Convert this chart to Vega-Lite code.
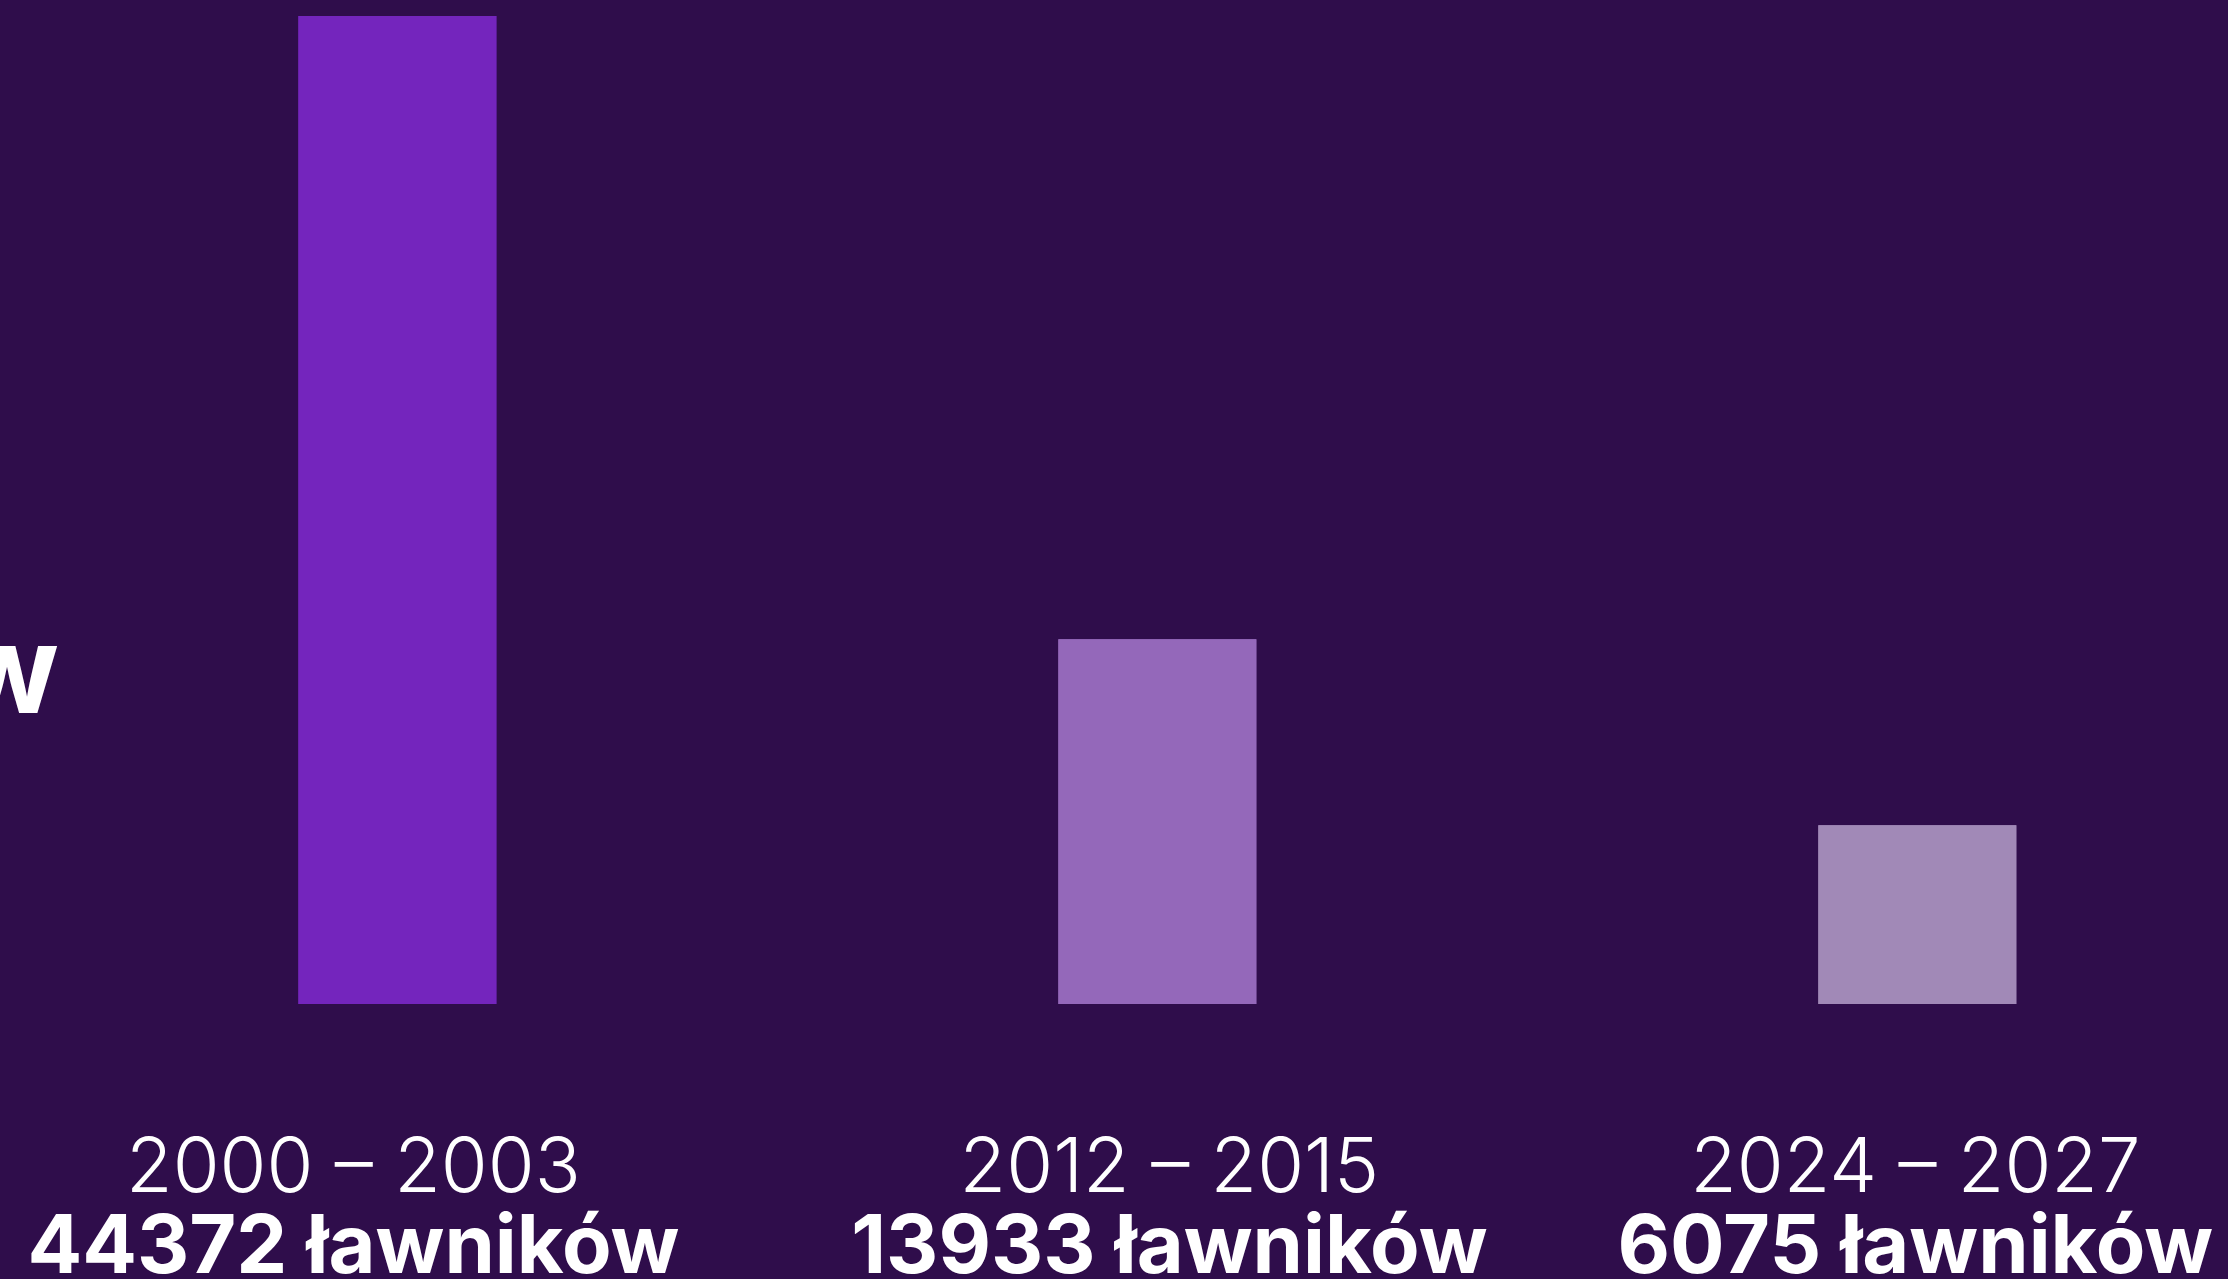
{
  "$schema": "https://vega.github.io/schema/vega-lite/v6.json",
  "width": 2228,
  "height": 988,
  "autosize": {"type": "none"},
  "padding": {"left": 0, "right": 0, "top": 16, "bottom": 275},
  "background": "#2f0d4b",
  "config": {"view": {"stroke": null}, "font": "Inter"},
  "title": {
    "text": "w",
    "anchor": "start",
    "frame": "group",
    "align": "right",
    "baseline": "alphabetic",
    "offset": 0,
    "dx": 59,
    "dy": 819,
    "fontSize": 122,
    "fontWeight": "bold",
    "color": "#ffffff",
    "font": "Inter"
  },
  "data": {
    "values": [
      {"okres": "2000 – 2003", "lawnicy": 44372, "etykieta": "44372 ławników"},
      {"okres": "2012 – 2015", "lawnicy": 13933, "etykieta": "13933 ławników"},
      {"okres": "2024 – 2027", "lawnicy": 6075, "etykieta": "6075 ławników"}
    ]
  },
  "layer": [
    {
      "mark": {"type": "bar"},
      "encoding": {
        "x": {
          "field": "okres",
          "type": "nominal",
          "sort": null,
          "scale": {"paddingInner": 0.7395, "paddingOuter": 0.3356, "align": 0.585},
          "axis": {
            "orient": "bottom",
            "title": null,
            "domain": false,
            "ticks": false,
            "tickSize": 0,
            "grid": false,
            "labelAngle": 0,
            "labelBaseline": "alphabetic",
            "labelPadding": 187,
            "labelFontSize": 76,
            "labelFontWeight": 300,
            "labelFont": "Inter",
            "labelColor": "#ffffff",
            "labelOverlap": false,
            "labelBound": false,
            "labelLimit": 0,
            "labelOffset": {"condition": [{"test": "datum.value === '2000 – 2003'", "value": -44}, {"test": "datum.value === '2012 – 2015'", "value": 12}], "value": -2}
          }
        },
        "y": {
          "field": "lawnicy",
          "type": "quantitative",
          "scale": {"type": "pow", "exponent": 0.86, "domain": [0, 44372]},
          "axis": null
        },
        "color": {
          "field": "okres",
          "type": "nominal",
          "sort": null,
          "scale": {"range": ["#7425bd", "#9468ba", "#a189b7"]},
          "legend": null
        }
      }
    },
    {
      "mark": {"type": "bar"},
      "encoding": {
        "x": {
          "field": "etykieta",
          "type": "nominal",
          "sort": null,
          "scale": {"paddingInner": 0.7395, "paddingOuter": 0.3356, "align": 0.585},
          "axis": {
            "orient": "bottom",
            "title": null,
            "domain": false,
            "ticks": false,
            "tickSize": 0,
            "grid": false,
            "labelAngle": 0,
            "labelBaseline": "alphabetic",
            "labelPadding": 268,
            "labelFontSize": 81,
            "labelFontWeight": "bold",
            "labelFont": "Inter",
            "labelColor": "#ffffff",
            "labelOverlap": false,
            "labelBound": false,
            "labelLimit": 0,
            "labelOffset": {"condition": [{"test": "datum.value === '44372 ławników'", "value": -44}, {"test": "datum.value === '13933 ławników'", "value": 12}], "value": -2}
          }
        },
        "y": {
          "field": "lawnicy",
          "type": "quantitative",
          "scale": {"type": "pow", "exponent": 0.86, "domain": [0, 44372]},
          "axis": null
        },
        "color": {
          "field": "okres",
          "type": "nominal",
          "sort": null,
          "scale": {"range": ["#7425bd", "#9468ba", "#a189b7"]},
          "legend": null
        }
      }
    }
  ],
  "resolve": {"scale": {"x": "independent"}, "axis": {"x": "independent"}}
}
